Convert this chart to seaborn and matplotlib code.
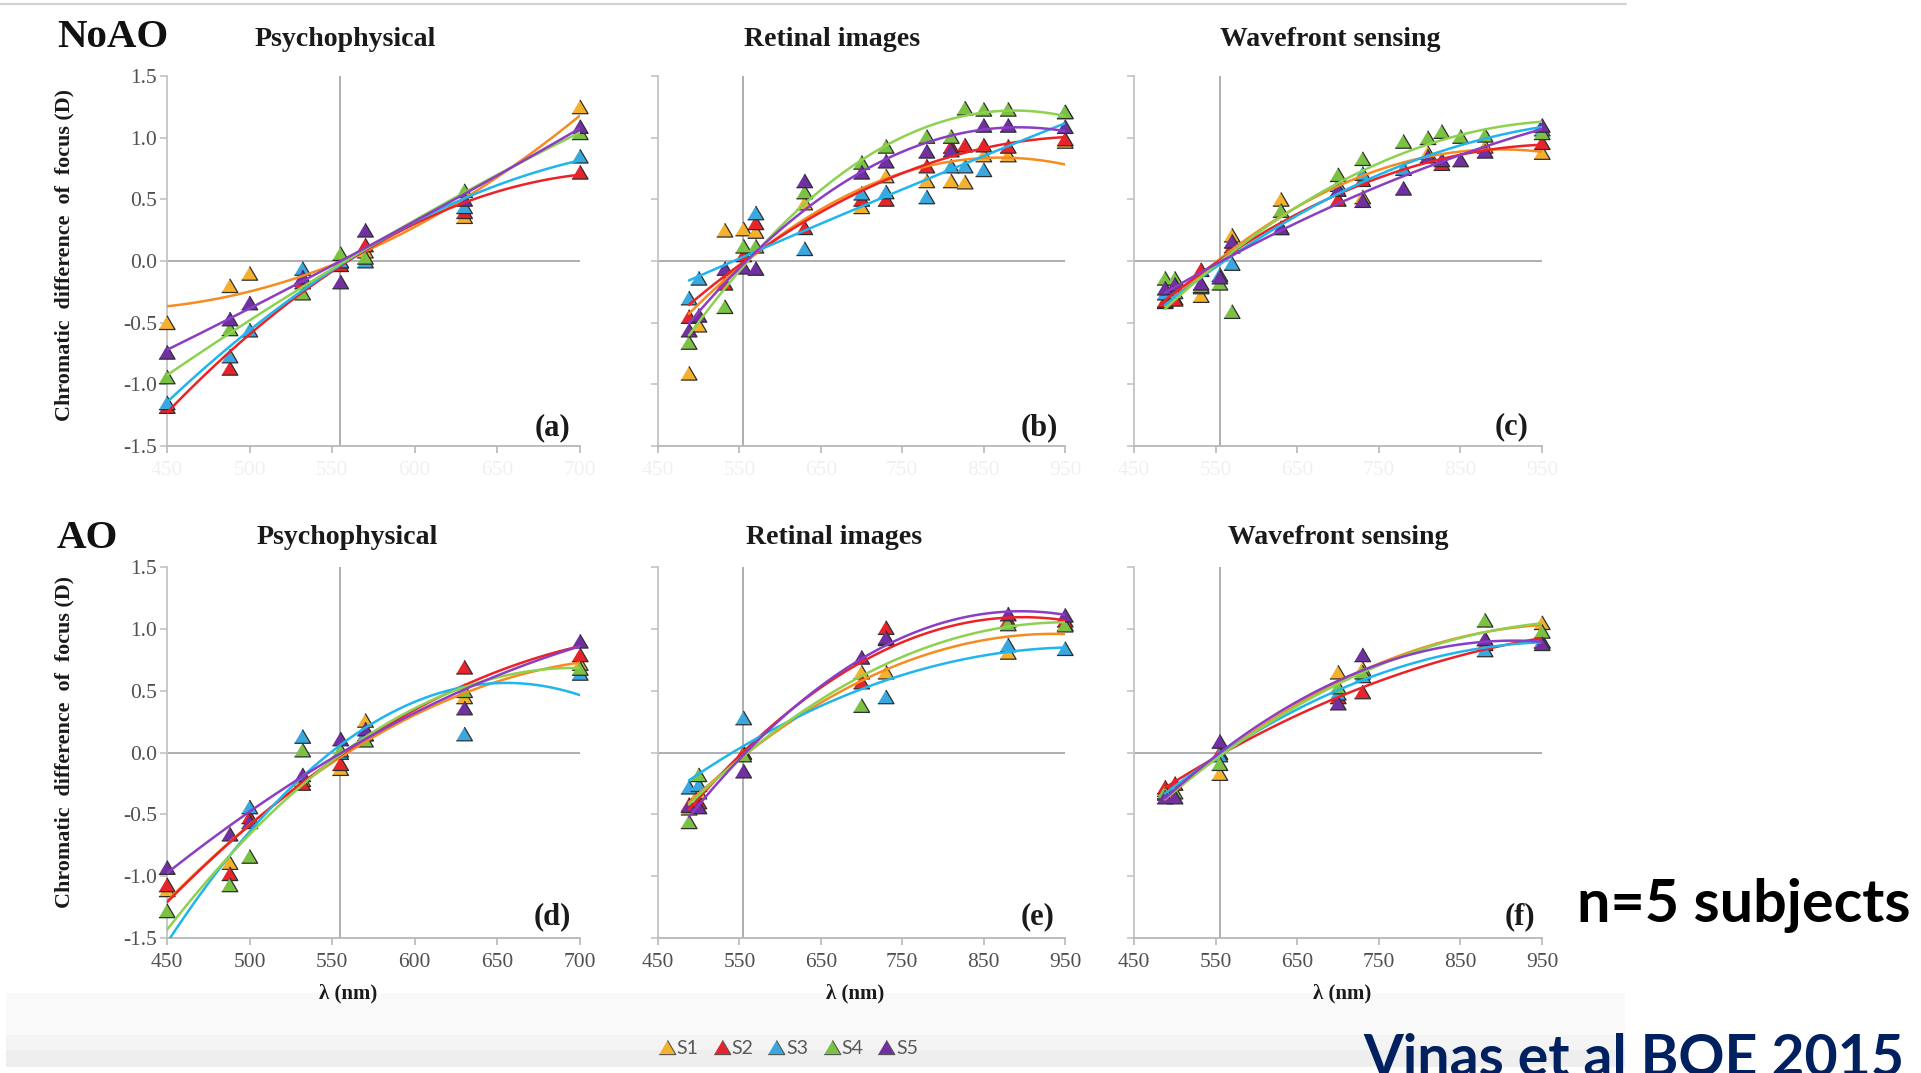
import numpy as np
import pandas as pd
import matplotlib
matplotlib.use("Agg")
import matplotlib.pyplot as plt
import seaborn as sns
from matplotlib.lines import Line2D
from matplotlib.markers import MarkerStyle
from matplotlib.patches import Rectangle
from matplotlib.ticker import FormatStrFormatter

nan = np.nan

# ---------------------------------------------------------------- data
SUBJECTS = ["S1", "S2", "S3", "S4", "S5"]
MARKER_COLORS = ["#F4B12E", "#E5242B", "#3AA7DF", "#7BC143", "#7030A0"]
LINE_COLORS = ["#F68B1F", "#EC2227", "#1FB5EE", "#8ED14E", "#8B3DC4"]

# wavelengths (nm)
WL_PSY = [450, 488, 500, 532, 555, 570, 630, 700]
WL_NOAO = [488, 500, 532, 555, 570, 630, 700, 730, 780, 810, 827, 850, 880, 950]
WL_AO = [488, 500, 555, 700, 730, 880, 950]

# chromatic difference of focus (D), natural aberrations
PSY_NOAO = {
    "S1": [-0.50, -0.20, -0.10, -0.15, 0.00, 0.08, 0.36, 1.25],
    "S2": [-1.18, -0.87, nan, -0.17, -0.03, 0.13, 0.40, 0.72],
    "S3": [-1.15, -0.77, -0.56, -0.06, 0.00, 0.00, 0.44, 0.85],
    "S4": [-0.94, -0.55, nan, -0.26, 0.06, 0.03, 0.57, 1.04],
    "S5": [-0.74, -0.47, -0.34, -0.13, -0.17, 0.25, 0.50, 1.09],
}
RET_NOAO = {
    "S1": [-0.91, -0.52, 0.25, 0.26, 0.24, 0.47, 0.44, 0.69, 0.65, 0.65, 0.64, 0.86, 0.86, 0.97],
    "S2": [-0.45, nan, -0.18, 0.05, 0.31, 0.27, 0.50, 0.50, 0.77, 0.93, 0.94, 0.94, 0.93, 0.99],
    "S3": [-0.30, -0.14, nan, nan, 0.39, 0.10, 0.55, 0.56, 0.52, 0.77, 0.77, 0.74, nan, 1.21],
    "S4": [-0.66, nan, -0.37, 0.12, 0.12, 0.56, 0.80, 0.93, 1.01, 1.01, 1.24, 1.23, 1.23, 1.21],
    "S5": [-0.56, -0.44, -0.06, -0.05, -0.06, 0.65, 0.72, 0.81, 0.89, 0.90, nan, 1.10, 1.10, 1.09],
}
WFS_NOAO = {
    "S1": [-0.33, -0.30, -0.28, nan, 0.21, 0.50, nan, 0.52, nan, 0.88, nan, nan, 0.93, 0.88],
    "S2": [-0.32, -0.31, -0.07, nan, 0.12, nan, 0.50, 0.66, nan, nan, 0.79, nan, nan, 0.96],
    "S3": [-0.26, -0.25, -0.21, -0.11, -0.02, 0.27, 0.62, 0.71, 0.75, nan, nan, nan, nan, 1.07],
    "S4": [-0.14, -0.14, -0.20, -0.18, -0.41, 0.41, 0.70, 0.83, 0.97, 1.00, 1.05, 1.01, 1.02, 1.04],
    "S5": [-0.22, -0.19, -0.18, -0.13, 0.16, 0.27, 0.58, 0.49, 0.59, 0.85, 0.82, 0.82, 0.89, 1.10],
}

# chromatic difference of focus (D), aberrations corrected with AO
PSY_AO = {
    "S1": [-1.11, -0.89, nan, -0.22, -0.13, 0.26, 0.45, 0.72],
    "S2": [-1.07, -0.98, -0.52, -0.25, -0.09, 0.15, 0.69, 0.79],
    "S3": [-1.75, nan, -0.44, 0.13, 0.00, 0.15, 0.15, 0.64],
    "S4": [-1.28, -1.07, -0.84, 0.02, 0.02, 0.10, 0.50, 0.68],
    "S5": [-0.93, -0.66, -0.56, -0.18, 0.11, 0.19, 0.36, 0.90],
}
RET_AO = {
    "S1": [-0.45, -0.32, 0.00, 0.65, 0.65, 0.81, 1.04],
    "S2": [-0.42, -0.40, 0.00, 0.57, 1.01, 1.07, 1.07],
    "S3": [-0.28, -0.26, 0.28, nan, 0.45, 0.87, 0.84],
    "S4": [-0.56, -0.18, -0.02, 0.38, 0.92, 1.04, 1.03],
    "S5": [-0.43, -0.44, -0.15, 0.77, 0.93, 1.12, 1.11],
}
WFS_AO = {
    "S1": [-0.30, nan, -0.17, 0.65, 0.68, 0.92, 1.05],
    "S2": [-0.28, -0.25, 0.00, 0.45, 0.49, 0.88, 0.90],
    "S3": [-0.33, nan, -0.02, 0.48, 0.62, 0.83, 0.90],
    "S4": [-0.32, -0.32, -0.09, 0.53, 0.65, 1.07, 0.98],
    "S5": [-0.36, -0.36, 0.09, 0.40, 0.79, 0.92, 0.88],
}

PANEL_TITLES = ["Psychophysical", "Retinal images", "Wavefront sensing"]
PANEL_TAGS = [["(a)", "(b)", "(c)"], ["(d)", "(e)", "(f)"]]
ROW_LABELS = ["NoAO", "AO"]
X_TICKS_PSY = [450, 500, 550, 600, 650, 700]
X_TICKS_WIDE = [450, 550, 650, 750, 850, 950]
Y_TICKS = [-1.5, -1.0, -0.5, 0.0, 0.5, 1.0, 1.5]
Y_LABEL = "Chromatic  difference  of  focus (D)"
X_LABEL = "λ (nm)"

# ---------------------------------------------------------------- style
sns.set_theme(style="ticks")
plt.rcParams["font.family"] = ["Liberation Serif", "DejaVu Serif"]
plt.rcParams["axes.unicode_minus"] = False
SANS = ["Lato", "Open Sans", "DejaVu Sans"]

W, H = 1921, 1073
fig = plt.figure(figsize=(W / 100, H / 100), dpi=100)
fig.patch.set_facecolor("white")
renderer = fig.canvas.get_renderer()


def fx(x):
    return x / W


def fy(y):
    return 1 - y / H


def fit_size(t, target, vertical=False):
    bb = t.get_window_extent(renderer)
    cur = bb.height if vertical else bb.width
    t.set_fontsize(t.get_fontsize() * target / cur)


# slide frame: thin rule on top, grey band at the bottom
fig.add_artist(Line2D([0, fx(1626)], [fy(4), fy(4)], color="#d4d4d4", lw=1.6,
                      transform=fig.transFigure))
for y0, y1, c in [(993, 1035, "#f9f9f9"), (1035, 1050, "#f4f4f4"), (1050, 1067, "#eeeeee")]:
    fig.add_artist(Rectangle((fx(6), fy(y1)), fx(1625) - fx(6), fy(y0) - fy(y1),
                             transform=fig.transFigure, facecolor=c, edgecolor="none",
                             zorder=0))

TRI = MarkerStyle([(-1, -0.85), (1, -0.85), (0, 0.85)])

COLS_X = [(167, 580), (658, 1065), (1134, 1542)]
ROWS_Y = [(76, 446), (567, 938)]
PANELS = [
    [(WL_PSY, PSY_NOAO), (WL_NOAO, RET_NOAO), (WL_NOAO, WFS_NOAO)],
    [(WL_PSY, PSY_AO), (WL_AO, RET_AO), (WL_AO, WFS_AO)],
]


def long_frame(wl, table):
    rows = []
    for s in SUBJECTS:
        for w, v in zip(wl, table[s]):
            rows.append({"wl": w, "val": v, "subject": s})
    return pd.DataFrame(rows).dropna()


palette = dict(zip(SUBJECTS, MARKER_COLORS))

for r in range(2):
    for c in range(3):
        x0, x1 = COLS_X[c]
        y0, y1 = ROWS_Y[r]
        ax = fig.add_axes([fx(x0), fy(y1), fx(x1) - fx(x0), fy(y0) - fy(y1)])
        ax.set_facecolor("none")
        wl, table = PANELS[r][c]
        df = long_frame(wl, table)

        ax.axhline(0, color="#a8a8a8", lw=1.3, zorder=1)
        ax.axvline(555, color="#a8a8a8", lw=1.3, zorder=1)

        sns.scatterplot(data=df, x="wl", y="val", hue="subject", hue_order=SUBJECTS,
                        palette=palette, marker=TRI, s=135, edgecolor="#2e2e2e",
                        linewidth=0.9, legend=False, ax=ax, zorder=3)
        coll = ax.collections[-1]
        coll.set_clip_path(Rectangle((-0.05, 0.0), 1.1, 1.1, transform=ax.transAxes))

        for s, lc in zip(SUBJECTS, LINE_COLORS):
            sub = df[df["subject"] == s]
            sns.regplot(data=sub, x="wl", y="val", order=2, ci=None, scatter=False,
                        truncate=True, color=lc, line_kws={"lw": 1.8, "zorder": 4},
                        ax=ax)

        ax.set(xlabel="", ylabel="")
        if c == 0:
            ax.set_xlim(450, 700)
            ax.set_xticks(X_TICKS_PSY)
        else:
            ax.set_xlim(450, 950)
            ax.set_xticks(X_TICKS_WIDE)
        ax.set_ylim(-1.5, 1.5)
        ax.set_yticks(Y_TICKS)
        ax.yaxis.set_major_formatter(FormatStrFormatter("%.1f"))

        for side in ["top", "right"]:
            ax.spines[side].set_visible(False)
        ax.spines["left"].set_color("#c4c4c4")
        ax.spines["bottom"].set_color("#b8b8b8")
        ax.spines["left"].set_linewidth(1.3)
        ax.spines["bottom"].set_linewidth(1.3)

        xlab_color = "#f0f0f0" if r == 0 else "#505050"
        ax.tick_params(axis="x", direction="out", length=5, width=1.2, color="#b8b8b8",
                       pad=6, labelsize=15.5, labelcolor=xlab_color)
        ax.tick_params(axis="y", direction="out", length=5, width=1.2, color="#c4c4c4",
                       pad=2, labelsize=15.5, labelcolor="#505050", labelleft=(c == 0))

# row labels and panel titles
title_pos = [[(345, 46), (832, 46), (1330, 46)], [(347, 544), (834, 544), (1338, 544)]]
for r in range(2):
    t = fig.text(fx(57), fy(47 if r == 0 else 548), ROW_LABELS[r], fontsize=29.5,
                 fontweight="bold", ha="left", va="baseline", color="#111111")
    for c in range(3):
        px, py = title_pos[r][c]
        t = fig.text(fx(px), fy(py), PANEL_TITLES[c], fontsize=19, fontweight="bold",
                     ha="center", va="baseline", color="#1a1a1a")
        if c == 0:
            fit_size(t, 181)
            tsize = t.get_fontsize()
        else:
            t.set_fontsize(tsize)

# y labels
for yc in [255, 742]:
    t = fig.text(fx(64), fy(yc), Y_LABEL, rotation=90, fontsize=13.5, fontweight="bold",
                 ha="center", va="center", color="#1a1a1a")
    fit_size(t, 332, vertical=True)

# x labels (bottom row)
for xc in [348, 855, 1342]:
    fig.text(fx(xc), fy(993), X_LABEL, fontsize=15, fontweight="bold", ha="center",
             va="center", color="#1a1a1a")

# panel tags
tag_pos = [[(552, 428), (1039, 428), (1512, 427)], [(552, 917), (1038, 917), (1520, 917)]]
for r in range(2):
    for c in range(3):
        px, py = tag_pos[r][c]
        fig.text(fx(px), fy(py), PANEL_TAGS[r][c], fontsize=22, fontweight="bold",
                 ha="center", va="center", color="#1a1a1a")

# legend
handles = [Line2D([], [], ls="none", marker=TRI, markersize=12, markerfacecolor=mc,
                  markeredgecolor="#555555", markeredgewidth=0.8) for mc in MARKER_COLORS]
fig.legend(handles, SUBJECTS, loc="center", bbox_to_anchor=(fx(788), fy(1048)), ncol=5,
           frameon=False, handlelength=0.9, handletextpad=0.05, columnspacing=0.75,
           prop={"family": SANS, "size": 14}, labelcolor="#595959")

# annotations
t = fig.text(fx(1577), fy(922), "n=5 subjects", fontsize=44, fontweight="bold",
             family=SANS, ha="left", va="baseline", color="#000000")
fit_size(t, 333)
t = fig.text(fx(1363), fy(1076), "Vinas et al BOE 2015", fontsize=44, fontweight="bold",
             family=SANS, ha="left", va="baseline", color="#002060")
fit_size(t, 542)

fig.savefig("out.png", dpi=100)
